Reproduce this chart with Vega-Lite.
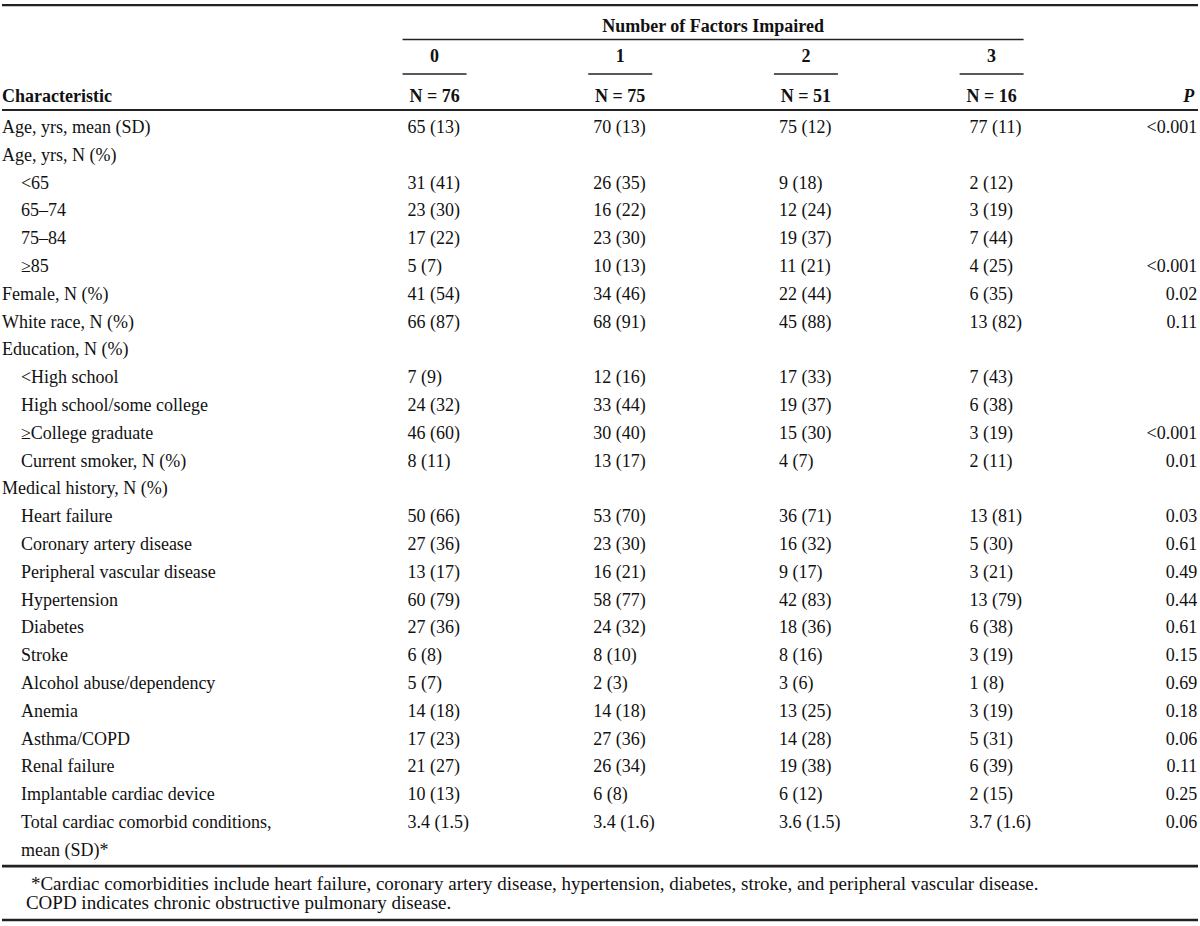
{
  "$schema": "https://vega.github.io/schema/vega-lite/v6.json",
  "width": 1200,
  "height": 926,
  "autosize": {"type": "fit", "contains": "padding"},
  "padding": 0,
  "background": "white",
  "config": {
    "view": {"stroke": null},
    "text": {"font": "Liberation Serif", "fontSize": 18, "color": "#111", "baseline": "middle"},
    "rule": {"color": "#222"}
  },
  "datasets": {
    "rows": [
      {"r": 0, "label": "Age, yrs, mean (SD)", "indent": 0},
      {"r": 1, "label": "Age, yrs, N (%)", "indent": 0},
      {"r": 2, "label": "<65", "indent": 1},
      {"r": 3, "label": "65–74", "indent": 1},
      {"r": 4, "label": "75–84", "indent": 1},
      {"r": 5, "label": "≥85", "indent": 1},
      {"r": 6, "label": "Female, N (%)", "indent": 0},
      {"r": 7, "label": "White race, N (%)", "indent": 0},
      {"r": 8, "label": "Education, N (%)", "indent": 0},
      {"r": 9, "label": "<High school", "indent": 1},
      {"r": 10, "label": "High school/some college", "indent": 1},
      {"r": 11, "label": "≥College graduate", "indent": 1},
      {"r": 12, "label": "Current smoker, N (%)", "indent": 1},
      {"r": 13, "label": "Medical history, N (%)", "indent": 0},
      {"r": 14, "label": "Heart failure", "indent": 1},
      {"r": 15, "label": "Coronary artery disease", "indent": 1},
      {"r": 16, "label": "Peripheral vascular disease", "indent": 1},
      {"r": 17, "label": "Hypertension", "indent": 1},
      {"r": 18, "label": "Diabetes", "indent": 1},
      {"r": 19, "label": "Stroke", "indent": 1},
      {"r": 20, "label": "Alcohol abuse/dependency", "indent": 1},
      {"r": 21, "label": "Anemia", "indent": 1},
      {"r": 22, "label": "Asthma/COPD", "indent": 1},
      {"r": 23, "label": "Renal failure", "indent": 1},
      {"r": 24, "label": "Implantable cardiac device", "indent": 1},
      {"r": 25, "label": "Total cardiac comorbid conditions,", "indent": 1},
      {"r": 26, "label": "mean (SD)*", "indent": 1}
    ],
    "cells": [
      {"r": 0, "col": 1, "v": "65 (13)"}, {"r": 0, "col": 2, "v": "70 (13)"}, {"r": 0, "col": 3, "v": "75 (12)"}, {"r": 0, "col": 4, "v": "77 (11)"},
      {"r": 2, "col": 1, "v": "31 (41)"}, {"r": 2, "col": 2, "v": "26 (35)"}, {"r": 2, "col": 3, "v": "\u00a0\u00a09 (18)"}, {"r": 2, "col": 4, "v": "2 (12)"},
      {"r": 3, "col": 1, "v": "23 (30)"}, {"r": 3, "col": 2, "v": "16 (22)"}, {"r": 3, "col": 3, "v": "12 (24)"}, {"r": 3, "col": 4, "v": "3 (19)"},
      {"r": 4, "col": 1, "v": "17 (22)"}, {"r": 4, "col": 2, "v": "23 (30)"}, {"r": 4, "col": 3, "v": "19 (37)"}, {"r": 4, "col": 4, "v": "7 (44)"},
      {"r": 5, "col": 1, "v": "5 (7)"}, {"r": 5, "col": 2, "v": "10 (13)"}, {"r": 5, "col": 3, "v": "11 (21)"}, {"r": 5, "col": 4, "v": "4 (25)"},
      {"r": 6, "col": 1, "v": "41 (54)"}, {"r": 6, "col": 2, "v": "34 (46)"}, {"r": 6, "col": 3, "v": "22 (44)"}, {"r": 6, "col": 4, "v": "6 (35)"},
      {"r": 7, "col": 1, "v": "66 (87)"}, {"r": 7, "col": 2, "v": "68 (91)"}, {"r": 7, "col": 3, "v": "45 (88)"}, {"r": 7, "col": 4, "v": "13 (82)"},
      {"r": 9, "col": 1, "v": "7 (9)"}, {"r": 9, "col": 2, "v": "12 (16)"}, {"r": 9, "col": 3, "v": "17 (33)"}, {"r": 9, "col": 4, "v": "7 (43)"},
      {"r": 10, "col": 1, "v": "24 (32)"}, {"r": 10, "col": 2, "v": "33 (44)"}, {"r": 10, "col": 3, "v": "19 (37)"}, {"r": 10, "col": 4, "v": "6 (38)"},
      {"r": 11, "col": 1, "v": "46 (60)"}, {"r": 11, "col": 2, "v": "30 (40)"}, {"r": 11, "col": 3, "v": "15 (30)"}, {"r": 11, "col": 4, "v": "3 (19)"},
      {"r": 12, "col": 1, "v": "8 (11)"}, {"r": 12, "col": 2, "v": "13 (17)"}, {"r": 12, "col": 3, "v": "4 (7)"}, {"r": 12, "col": 4, "v": "2 (11)"},
      {"r": 14, "col": 1, "v": "50 (66)"}, {"r": 14, "col": 2, "v": "53 (70)"}, {"r": 14, "col": 3, "v": "36 (71)"}, {"r": 14, "col": 4, "v": "13 (81)"},
      {"r": 15, "col": 1, "v": "27 (36)"}, {"r": 15, "col": 2, "v": "23 (30)"}, {"r": 15, "col": 3, "v": "16 (32)"}, {"r": 15, "col": 4, "v": "5 (30)"},
      {"r": 16, "col": 1, "v": "13 (17)"}, {"r": 16, "col": 2, "v": "16 (21)"}, {"r": 16, "col": 3, "v": "9 (17)"}, {"r": 16, "col": 4, "v": "3 (21)"},
      {"r": 17, "col": 1, "v": "60 (79)"}, {"r": 17, "col": 2, "v": "58 (77)"}, {"r": 17, "col": 3, "v": "42 (83)"}, {"r": 17, "col": 4, "v": "13 (79)"},
      {"r": 18, "col": 1, "v": "27 (36)"}, {"r": 18, "col": 2, "v": "24 (32)"}, {"r": 18, "col": 3, "v": "18 (36)"}, {"r": 18, "col": 4, "v": "6 (38)"},
      {"r": 19, "col": 1, "v": "6 (8)"}, {"r": 19, "col": 2, "v": "8 (10)"}, {"r": 19, "col": 3, "v": "8 (16)"}, {"r": 19, "col": 4, "v": "3 (19)"},
      {"r": 20, "col": 1, "v": "5 (7)"}, {"r": 20, "col": 2, "v": "2 (3)"}, {"r": 20, "col": 3, "v": "3 (6)"}, {"r": 20, "col": 4, "v": "1 (8)"},
      {"r": 21, "col": 1, "v": "14 (18)"}, {"r": 21, "col": 2, "v": "14 (18)"}, {"r": 21, "col": 3, "v": "13 (25)"}, {"r": 21, "col": 4, "v": "3 (19)"},
      {"r": 22, "col": 1, "v": "17 (23)"}, {"r": 22, "col": 2, "v": "27 (36)"}, {"r": 22, "col": 3, "v": "14 (28)"}, {"r": 22, "col": 4, "v": "5 (31)"},
      {"r": 23, "col": 1, "v": "21 (27)"}, {"r": 23, "col": 2, "v": "26 (34)"}, {"r": 23, "col": 3, "v": "19 (38)"}, {"r": 23, "col": 4, "v": "6 (39)"},
      {"r": 24, "col": 1, "v": "10 (13)"}, {"r": 24, "col": 2, "v": "6 (8)"}, {"r": 24, "col": 3, "v": "6 (12)"}, {"r": 24, "col": 4, "v": "2 (15)"},
      {"r": 25, "col": 1, "v": "3.4 (1.5)"}, {"r": 25, "col": 2, "v": "3.4 (1.6)"}, {"r": 25, "col": 3, "v": "3.6 (1.5)"}, {"r": 25, "col": 4, "v": "3.7 (1.6)"}
    ],
    "pvals": [
      {"r": 0, "p": "<0.001"}, {"r": 5, "p": "<0.001"}, {"r": 6, "p": "0.02"}, {"r": 7, "p": "0.11"},
      {"r": 11, "p": "<0.001"}, {"r": 12, "p": "0.01"}, {"r": 14, "p": "0.03"}, {"r": 15, "p": "0.61"},
      {"r": 16, "p": "0.49"}, {"r": 17, "p": "0.44"}, {"r": 18, "p": "0.61"}, {"r": 19, "p": "0.15"},
      {"r": 20, "p": "0.69"}, {"r": 21, "p": "0.18"}, {"r": 22, "p": "0.06"}, {"r": 23, "p": "0.11"},
      {"r": 24, "p": "0.25"}, {"r": 25, "p": "0.06"}
    ],
    "groups": [
      {"col": 1, "num": "0", "n": "N = 76"},
      {"col": 2, "num": "1", "n": "N = 75"},
      {"col": 3, "num": "2", "n": "N = 51"},
      {"col": 4, "num": "3", "n": "N = 16"}
    ],
    "notes": [
      {"line": 1, "t": "*Cardiac comorbidities include heart failure, coronary artery disease, hypertension, diabetes, stroke, and peripheral vascular disease."},
      {"line": 2, "t": "COPD indicates chronic obstructive pulmonary disease."}
    ]
  },
  "layer": [
    {
      "data": {"values": [{"t": "top"}]},
      "mark": {"type": "rule", "strokeWidth": 2.4},
      "encoding": {
        "x": {"datum": -1.3296, "type": "quantitative", "scale": {"domain": [-1.3296, 5.1116], "nice": false, "zero": false}, "axis": null},
        "x2": {"datum": 5.1116},
        "y": {"datum": -4.42, "type": "quantitative", "scale": {"domain": [-4.604, 28.705], "nice": false, "zero": false, "reverse": true}, "axis": null}
      }
    },
    {
      "data": {"values": [{"t": "span"}]},
      "mark": {"type": "rule", "strokeWidth": 1.5, "xOffset": -32, "x2Offset": 32},
      "encoding": {"x": {"datum": 1, "type": "quantitative"}, "x2": {"datum": 4}, "y": {"datum": -3.18, "type": "quantitative"}}
    },
    {
      "data": {"name": "groups"},
      "mark": {"type": "rule", "strokeWidth": 1.5, "xOffset": -32, "x2Offset": 32},
      "encoding": {"x": {"field": "col", "type": "quantitative"}, "x2": {"field": "col"}, "y": {"datum": -1.94, "type": "quantitative"}}
    },
    {
      "data": {"values": [{"t": "head"}]},
      "mark": {"type": "rule", "strokeWidth": 2},
      "encoding": {"x": {"datum": -1.3296, "type": "quantitative"}, "x2": {"datum": 5.1116}, "y": {"datum": -0.65, "type": "quantitative"}}
    },
    {
      "data": {"values": [{"t": "end"}]},
      "mark": {"type": "rule", "strokeWidth": 2.6},
      "encoding": {"x": {"datum": -1.3296, "type": "quantitative"}, "x2": {"datum": 5.1116}, "y": {"datum": 26.55, "type": "quantitative"}}
    },
    {
      "data": {"values": [{"t": "bottom"}]},
      "mark": {"type": "rule", "strokeWidth": 2.6},
      "encoding": {"x": {"datum": -1.3296, "type": "quantitative"}, "x2": {"datum": 5.1116}, "y": {"datum": 28.49, "type": "quantitative"}}
    },
    {
      "data": {"values": [{"t": "Number of Factors Impaired"}]},
      "mark": {"type": "text", "fontWeight": "bold", "align": "center"},
      "encoding": {"x": {"datum": 2.5, "type": "quantitative"}, "y": {"datum": -3.63, "type": "quantitative"}, "text": {"field": "t"}}
    },
    {
      "data": {"name": "groups"},
      "mark": {"type": "text", "fontWeight": "bold", "align": "center"},
      "encoding": {"x": {"field": "col", "type": "quantitative"}, "y": {"datum": -2.55, "type": "quantitative"}, "text": {"field": "num"}}
    },
    {
      "data": {"name": "groups"},
      "mark": {"type": "text", "fontWeight": "bold", "align": "center"},
      "encoding": {"x": {"field": "col", "type": "quantitative"}, "y": {"datum": -1.115, "type": "quantitative"}, "text": {"field": "n"}}
    },
    {
      "data": {"values": [{"t": "Characteristic"}]},
      "mark": {"type": "text", "fontWeight": "bold", "align": "left"},
      "encoding": {"x": {"datum": -1.3296, "type": "quantitative"}, "y": {"datum": -1.115, "type": "quantitative"}, "text": {"field": "t"}}
    },
    {
      "data": {"values": [{"t": "P"}]},
      "mark": {"type": "text", "fontWeight": "bold", "fontStyle": "italic", "align": "right", "dx": 17},
      "encoding": {"x": {"datum": 5, "type": "quantitative"}, "y": {"datum": -1.115, "type": "quantitative"}, "text": {"field": "t"}}
    },
    {
      "data": {"name": "rows"},
      "transform": [{"filter": "datum.indent == 0"}],
      "mark": {"type": "text", "align": "left"},
      "encoding": {"x": {"datum": -1.3296, "type": "quantitative"}, "y": {"field": "r", "type": "quantitative"}, "text": {"field": "label"}}
    },
    {
      "data": {"name": "rows"},
      "transform": [{"filter": "datum.indent == 1"}],
      "mark": {"type": "text", "align": "left"},
      "encoding": {"x": {"datum": -1.2276, "type": "quantitative"}, "y": {"field": "r", "type": "quantitative"}, "text": {"field": "label"}}
    },
    {
      "data": {"name": "cells"},
      "transform": [{"filter": "datum.col < 4"}],
      "mark": {"type": "text", "align": "left", "dx": -27},
      "encoding": {"x": {"field": "col", "type": "quantitative"}, "y": {"field": "r", "type": "quantitative"}, "text": {"field": "v"}}
    },
    {
      "data": {"name": "cells"},
      "transform": [{"filter": "datum.col == 4"}],
      "mark": {"type": "text", "align": "left", "dx": -22},
      "encoding": {"x": {"field": "col", "type": "quantitative"}, "y": {"field": "r", "type": "quantitative"}, "text": {"field": "v"}}
    },
    {
      "data": {"name": "pvals"},
      "mark": {"type": "text", "align": "right", "dx": 20},
      "encoding": {"x": {"datum": 5, "type": "quantitative"}, "y": {"field": "r", "type": "quantitative"}, "text": {"field": "p"}}
    },
    {
      "data": {"name": "notes"},
      "transform": [{"filter": "datum.line == 1"}],
      "mark": {"type": "text", "align": "left", "fontSize": 19},
      "encoding": {"x": {"datum": -1.174, "type": "quantitative"}, "y": {"datum": 27.19, "type": "quantitative"}, "text": {"field": "t"}}
    },
    {
      "data": {"name": "notes"},
      "transform": [{"filter": "datum.line == 2"}],
      "mark": {"type": "text", "align": "left", "fontSize": 19},
      "encoding": {"x": {"datum": -1.2008, "type": "quantitative"}, "y": {"datum": 27.88, "type": "quantitative"}, "text": {"field": "t"}}
    }
  ]
}
